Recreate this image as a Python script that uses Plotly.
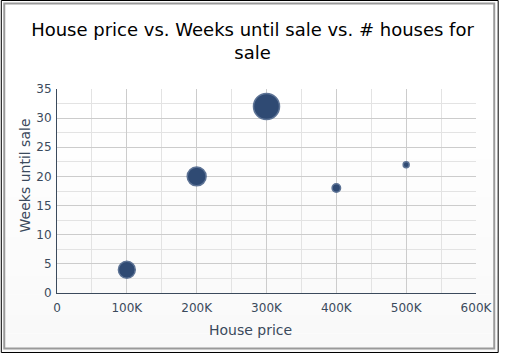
import plotly.graph_objects as go

house_price = [100000, 200000, 300000, 400000, 500000]
weeks_until_sale = [4, 20, 32, 18, 22]
houses_for_sale = [8, 10, 19, 2, 1]

x_tickvals = [0, 100000, 200000, 300000, 400000, 500000, 600000]
x_ticktext = ["0", "100K", "200K", "300K", "400K", "500K", "600K"]
y_tickvals = [0, 5, 10, 15, 20, 25, 30, 35]

W, H = 505, 353
L, R, T, B = 57, 23, 89, 60
pw, ph = W - L - R, H - T - B

def px(xp):
    return (xp - L) / pw

def py(yp):
    return (H - B - yp) / ph

FONT = "DejaVu Sans"
AX = "#3b4a5c"

fig = go.Figure()
fig.add_trace(go.Scatter(
    x=house_price, y=weeks_until_sale, mode="markers",
    marker=dict(
        size=houses_for_sale, sizemode="area",
        sizeref=2 * max(houses_for_sale) / 26 ** 2,
        color="#2f4a73",
        line=dict(color="#5d7395", width=1.5),
        opacity=1,
    ),
    hoverinfo="x+y",
    showlegend=False,
))

shapes = []
# subtle background gradient
n = 12
for i in range(n):
    y0 = 120 + (H - 120) * i / n
    y1 = 120 + (H - 120) * (i + 1) / n
    c = int(255 - 6 * (i + 1) / n)
    shapes.append(dict(type="rect", xref="paper", yref="paper", layer="below",
                       x0=px(0), x1=px(W), y0=py(y1), y1=py(y0),
                       line=dict(width=0), fillcolor=f"rgb({c},{c},{c})"))
shapes.append(dict(type="rect", xref="paper", yref="paper",
                   x0=px(3.5), x1=px(500.5), y0=py(348.5), y1=py(3.5),
                   line=dict(color="#9a9a9a", width=2)))
shapes.append(dict(type="rect", xref="paper", yref="paper",
                   x0=px(0.5), x1=px(504.5), y0=py(352.5), y1=py(0.5),
                   line=dict(color="#000000", width=1)))

fig.update_layout(
    width=W, height=H,
    margin=dict(l=L, r=R, t=T, b=B),
    paper_bgcolor="white",
    plot_bgcolor="rgba(0,0,0,0)",
    font=dict(family=FONT, size=12, color=AX),
    title=dict(text="House price vs. Weeks until sale vs. # houses for<br>sale",
               x=0.5, xanchor="center", y=1 - 36 / H, yanchor="middle",
               font=dict(family=FONT, size=18, color="#000000")),
    shapes=shapes,
    xaxis=dict(
        range=[0, 600000], tickvals=x_tickvals, ticktext=x_ticktext,
        showgrid=True, gridcolor="#cccccc", gridwidth=1,
        minor=dict(dtick=50000, showgrid=True, gridcolor="#e3e3e3"),
        showline=True, linecolor=AX, linewidth=1,
        zeroline=False, ticks="", ticklen=0, ticklabelstandoff=4,
        tickfont=dict(family=FONT, size=12, color=AX),
    ),
    yaxis=dict(
        range=[0, 35], tickvals=y_tickvals,
        showgrid=True, gridcolor="#cccccc", gridwidth=1,
        minor=dict(dtick=2.5, showgrid=True, gridcolor="#e3e3e3"),
        showline=True, linecolor=AX, linewidth=1,
        zeroline=False, ticks="", ticklen=0, ticklabelstandoff=2,
        tickfont=dict(family=FONT, size=12, color=AX),
    ),
    annotations=[
        dict(text="House price", xref="paper", yref="paper",
             x=px(253), y=py(330), xanchor="center", yanchor="middle",
             showarrow=False, font=dict(family=FONT, size=14, color=AX)),
        dict(text="Weeks until sale", xref="paper", yref="paper",
             x=px(25), y=py(175), xanchor="center", yanchor="middle",
             textangle=-90, showarrow=False,
             font=dict(family=FONT, size=14, color=AX)),
    ],
)

fig.write_html("out.html")
